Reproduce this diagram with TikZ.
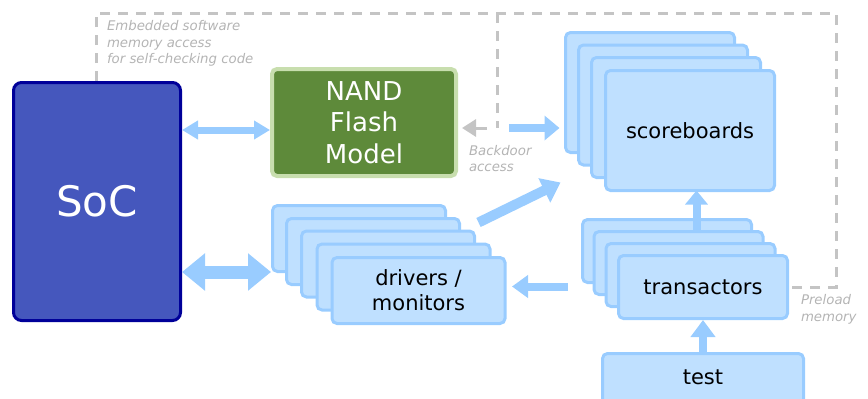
\documentclass[tikz,border=0pt]{standalone}
\usepackage{fontspec}
\setmainfont{DejaVu Sans}
\usetikzlibrary{arrows.meta,calc}
\definecolor{socfill}{HTML}{4557BD}
\definecolor{socline}{HTML}{000099}
\definecolor{nandfill}{HTML}{5E8A3A}
\definecolor{nandline}{HTML}{C8DEAE}
\definecolor{bluefill}{HTML}{BFE0FF}
\definecolor{blueline}{HTML}{99CCFF}
\definecolor{dashgrey}{HTML}{C4C4C4}
\definecolor{notegrey}{HTML}{B4B4B4}
\begin{document}
\begin{tikzpicture}[x=1pt,y=-1pt,
  every node/.style={outer sep=0pt},
  card/.style={draw=blueline, fill=bluefill, line width=3pt, rounded corners=5pt,
    anchor=north west, inner sep=0pt, align=center,
    font=\fontsize{21}{25}\selectfont},
  sbcard/.style={card, minimum width=169pt, minimum height=120pt},
  drvcard/.style={card, minimum width=173pt, minimum height=66pt},
  trncard/.style={card, minimum width=169pt, minimum height=63pt},
  note/.style={text=notegrey, font=\fontsize{13.3}{16.5}\selectfont\itshape,
    align=left, anchor=north west, inner sep=0pt},
  border/.style={draw=dashgrey, line width=3pt, dash pattern=on 10pt off 8pt},
  flow/.style={draw=blueline, line width=#1},
  flow/.default=8pt]
\useasboundingbox (0,0) rectangle (868,399);
\clip (0,0) rectangle (868,399);

% dashed memory-access boundary
\draw[border] (96,81) -- (96,13) -- (836,13) -- (836,287) -- (790,287);
\draw[border] (497,13) -- (497,128);

% SoC and flash model
\node[draw=socline, fill=socfill, line width=3pt, rounded corners=8pt,
  anchor=north west, minimum width=167pt, minimum height=238pt, inner sep=0pt,
  text=white, font=\fontsize{42}{50}\selectfont] (soc) at (13.5,82.5) {SoC};
\node[draw=nandline, fill=nandfill, line width=4pt, rounded corners=5pt,
  anchor=north west, minimum width=184pt, minimum height=107pt, inner sep=0pt,
  text=white, align=center, font=\fontsize{26}{31.5}\selectfont] (nand)
  at (272,69) {NAND\\Flash\\Model};

% scoreboards stack
\node[sbcard] (sb1) at (565.5,32.5) {};
\node[sbcard] (sb2) at (578.5,45) {};
\node[sbcard] (sb3) at (591.5,57.5) {};
\node[sbcard] (sb4) at (605.5,70.5) {scoreboards};

% drivers / monitors stack
\node[drvcard] (drv1) at (272.5,205.5) {};
\node[drvcard] (drv2) at (286.5,218.5) {};
\node[drvcard] (drv3) at (301.5,231) {};
\node[drvcard] (drv4) at (317,244) {};
\node[drvcard] (drv5) at (332,257.5) {drivers /\\monitors};

% transactors stack
\node[trncard] (trn1) at (582.5,219.5) {};
\node[trncard] (trn2) at (594,231.5) {};
\node[trncard] (trn3) at (606,243.5) {};
\node[trncard] (trn4) at (618.5,255.5) {transactors};

% test
\node[card, minimum width=201pt, minimum height=70pt] (test) at (602.5,353.5) {};
\node[font=\fontsize{21}{25}\selectfont, inner sep=0pt] (testlbl) at (703,377) {test};

% annotations
\node[note] (embnote) at (107,20.5) {Embedded software\\memory access\\for self-checking code};
\node[note] (bdnote) at (469,145) {Backdoor\\access};
\node[note] (plnote) at (801,294.5) {Preload\\memory};

% backdoor access arrow
\coordinate (bd) at ($(nand.east)+(0,5.5)$);
\draw[draw=dashgrey, line width=3pt, -{Triangle[width=17pt,length=14pt]}]
  ($(bd)+(31,0)$) -- ($(bd)+(6,0)$);

% connectors
\coordinate (nandin) at ($(nand.west)+(0,7.5)$);
\draw[flow=7pt, {Triangle[width=18pt,length=16pt]}-{Triangle[width=18pt,length=16pt]}]
  ($(soc.east |- nandin)+(1.5,0)$) -- ($(nandin)+(-2,0)$);
\coordinate (drvin) at (drv1.west |- 0,272);
\draw[flow=13pt, {Triangle[width=36pt,length=23pt]}-{Triangle[width=36pt,length=23pt]}]
  ($(soc.east |- drvin)+(1.5,0)$) -- ($(drvin)+(-1.5,0)$);
\draw[flow, -{Triangle[width=24pt,length=15pt]}]
  ($(bd)+(53,0)$) -- ($(sb1.west |- bd)+(-6,0)$);
\draw[flow=10pt, -{Triangle[width=26pt,length=18pt]}]
  ($(drv2.north east)+(19,4)$) -- ($(sb1.south west)+(-5,30)$);
\coordinate (trnout) at ($(drv5.east)+(0,-4)$);
\draw[flow, -{Triangle[width=22pt,length=16pt]}]
  ($(trn1.west |- trnout)+(-15,0)$) -- ($(trnout)+(7,0)$);
\coordinate (sbin) at ($(sb4.south)+(6.5,0)$);
\draw[flow=8pt, -{Triangle[width=22pt,length=14pt]}]
  ($(sbin |- trn1.north)+(0,12)$) -- (sbin);
\draw[flow=8pt, -{Triangle[width=24pt,length=17pt]}]
  (test.north) -- ($(trn4.south)+(0,1.5)$);
\end{tikzpicture}
\end{document}
